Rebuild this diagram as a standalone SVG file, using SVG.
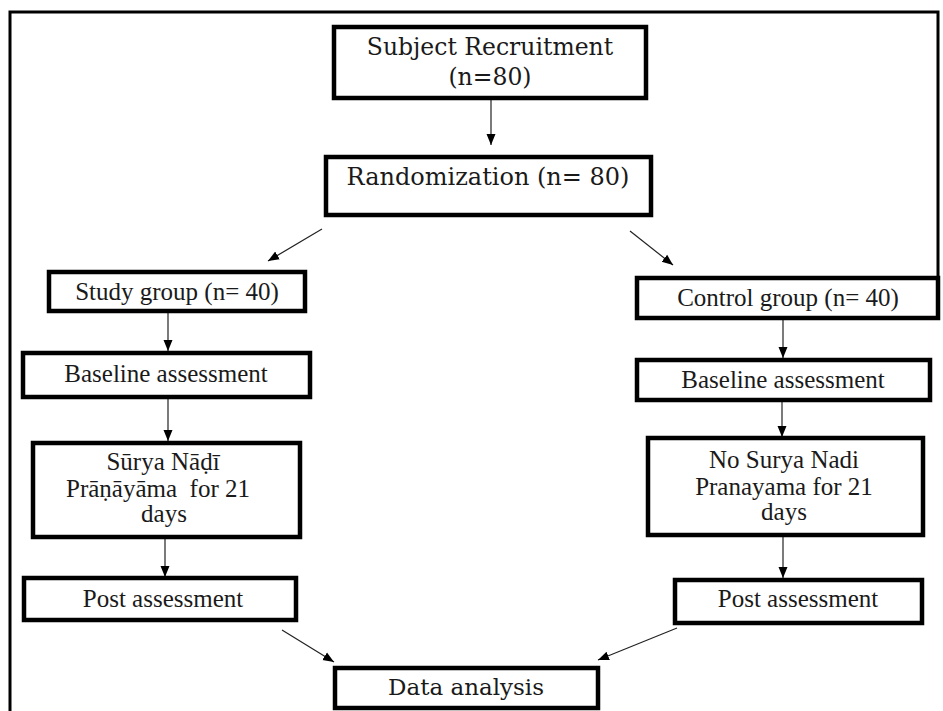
<svg xmlns="http://www.w3.org/2000/svg" width="943" height="711" viewBox="0 0 943 711">
<style>
.box{fill:#fff;stroke:#000;stroke-width:4.5}
.t1{font-family:"DejaVu Serif","Liberation Serif",serif;font-size:23px;fill:#1a1a1a;text-anchor:middle}
.t2{font-family:"Liberation Serif","DejaVu Serif",serif;font-size:25px;fill:#1a1a1a;text-anchor:middle}
.c{fill:none;stroke:#222;stroke-width:1.2}
</style>
<defs>
<marker id="ah" markerUnits="userSpaceOnUse" markerWidth="12" markerHeight="12" viewBox="0 0 12 12" refX="11" refY="6" orient="auto">
<path d="M0,1.5 L11,6 L0,10.5 Z" fill="#000"/>
</marker>
</defs>
<rect width="943" height="711" fill="#fff"/>
<path d="M10,711 V12 H938 V282" fill="none" stroke="#000" stroke-width="3"/>
<g id="connectors">
<line class="c" x1="491" y1="98" x2="491" y2="145" marker-end="url(#ah)"/>
<line class="c" x1="322" y1="229" x2="268" y2="261" marker-end="url(#ah)"/>
<line class="c" x1="630" y1="231" x2="673" y2="265" marker-end="url(#ah)"/>
<line class="c" x1="168" y1="311" x2="168" y2="351" marker-end="url(#ah)"/>
<line class="c" x1="168" y1="397" x2="168" y2="441" marker-end="url(#ah)"/>
<line class="c" x1="165" y1="537" x2="165" y2="577" marker-end="url(#ah)"/>
<line class="c" x1="783" y1="318" x2="783" y2="358" marker-end="url(#ah)"/>
<line class="c" x1="782" y1="400" x2="782" y2="437" marker-end="url(#ah)"/>
<line class="c" x1="783" y1="535" x2="783" y2="578" marker-end="url(#ah)"/>
<line class="c" x1="282" y1="630" x2="334" y2="662" marker-end="url(#ah)"/>
<line class="c" x1="677" y1="628" x2="598" y2="660" marker-end="url(#ah)"/>
</g>
<g id="recruit">
<rect class="box" x="334" y="27" width="312" height="71"/>
<text class="t1" x="490" y="55" style="font-size:23.5px">Subject Recruitment</text>
<text class="t1" x="490" y="85" style="font-size:23.5px">(n=80)</text>
</g>
<g id="random">
<rect class="box" x="326" y="157" width="325" height="58"/>
<text class="t1" x="488" y="185" style="font-size:24px">Randomization (n= 80)</text>
</g>
<g id="study">
<rect class="box" x="49" y="272" width="256" height="39"/>
<text class="t2" x="177" y="300">Study group (n= 40)</text>
</g>
<g id="baseline-study">
<rect class="box" x="23" y="353" width="287" height="44"/>
<text class="t2" x="166" y="382">Baseline assessment</text>
</g>
<g id="surya">
<rect class="box" x="33" y="443" width="267" height="94"/>
<text class="t2" x="163" y="470">Sūrya Nāḍī</text>
<text class="t2" x="158" y="497" xml:space="preserve">Prāṇāyāma  for 21</text>
<text class="t2" x="164" y="522">days</text>
</g>
<g id="post-study">
<rect class="box" x="24" y="578" width="272" height="42"/>
<text class="t2" x="163" y="607">Post assessment</text>
</g>
<g id="control">
<rect class="box" x="637" y="278" width="301" height="40"/>
<text class="t2" x="788" y="306">Control group (n= 40)</text>
</g>
<g id="baseline-control">
<rect class="box" x="637" y="360" width="293" height="40"/>
<text class="t2" x="783" y="388">Baseline assessment</text>
</g>
<g id="no-surya">
<rect class="box" x="648" y="438" width="275" height="97"/>
<text class="t2" x="784" y="468">No Surya Nadi</text>
<text class="t2" x="784" y="495">Pranayama for 21</text>
<text class="t2" x="784" y="520">days</text>
</g>
<g id="post-control">
<rect class="box" x="675" y="580" width="247" height="43"/>
<text class="t2" x="798" y="607">Post assessment</text>
</g>
<g id="data">
<rect class="box" x="335" y="668" width="263" height="40"/>
<text class="t1" x="466" y="695">Data analysis</text>
</g>
</svg>
